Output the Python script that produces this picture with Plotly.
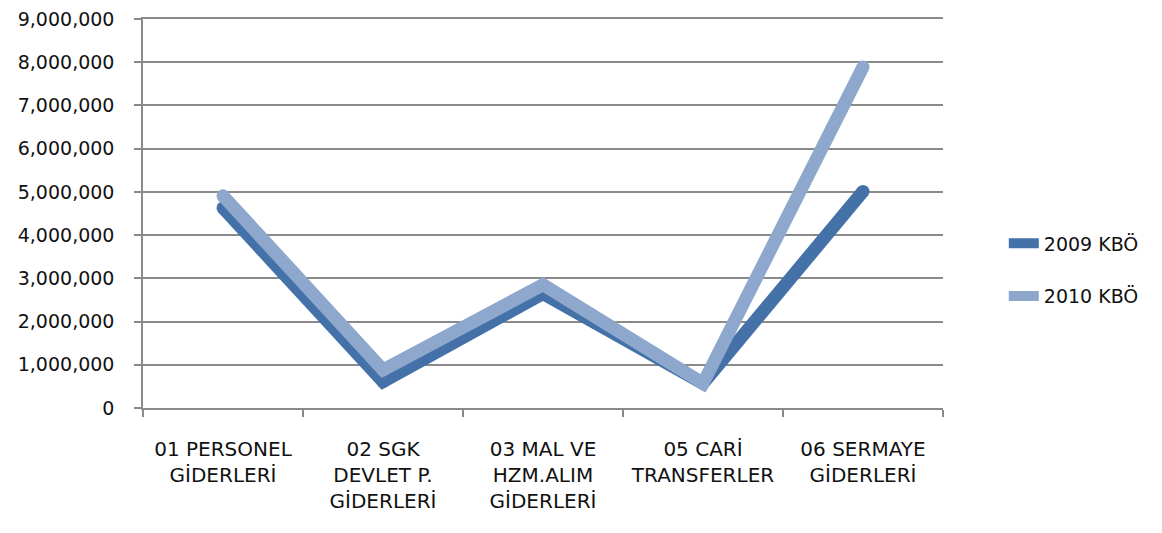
import plotly.graph_objects as go

categories = [
    "01 PERSONEL<br>GİDERLERİ",
    "02 SGK<br>DEVLET P.<br>GİDERLERİ",
    "03 MAL VE<br>HZM.ALIM<br>GİDERLERİ",
    "05 CARİ<br>TRANSFERLER",
    "06 SERMAYE<br>GİDERLERİ",
]
kbo_2009 = [4630000, 610000, 2650000, 570000, 5010000]
kbo_2010 = [4910000, 880000, 2850000, 570000, 7890000]

series = [("2009 KBÖ", kbo_2009, "#4471A8"), ("2010 KBÖ", kbo_2010, "#8EA7CD")]

FONT = "DejaVu Sans, sans-serif"
GRID = "#8a8a8a"

fig = go.Figure()
for name, values, color in series:
    fig.add_trace(go.Scatter(
        x=categories, y=values, mode="lines", name=name,
        line=dict(color=color, width=13), legendgroup=name,
    ))
    # round caps at the ends / joints
    fig.add_trace(go.Scatter(
        x=categories, y=values, mode="markers", showlegend=False, legendgroup=name,
        marker=dict(color=color, size=13, line=dict(width=0)),
    ))

# the page body adds an 8px offset, margins are compensated for it
fig.update_layout(
    width=1162, height=533,
    paper_bgcolor="white", plot_bgcolor="white",
    font=dict(family=FONT, color="#111111", size=19),
    margin=dict(l=135, r=227, t=11, b=133),
    showlegend=True,
    legend=dict(x=1.076, y=0.355, xanchor="left", yanchor="middle", itemwidth=30,
                tracegroupgap=25, font=dict(size=19)),
)
fig.update_xaxes(
    range=[-0.5, 4.5], showgrid=False, showline=True, linecolor=GRID, linewidth=1.5,
    mirror=True, ticks="outside", tickson="boundaries", ticklen=7, tickcolor=GRID,
    tickwidth=1.5, tickangle=0, zeroline=False, automargin=False, tickfont=dict(size=20),
    ticklabelstandoff=22,
)
fig.update_yaxes(
    range=[0, 9000000], dtick=1000000, tickformat=",d", showgrid=True, gridcolor=GRID,
    gridwidth=1.5, showline=True, linecolor=GRID, linewidth=1.5, ticks="outside",
    ticklen=7, tickcolor=GRID, tickwidth=1.5, zeroline=False, automargin=False,
    ticklabeloverflow="allow", ticklabelstandoff=16,
)

fig.write_html("out.html")
